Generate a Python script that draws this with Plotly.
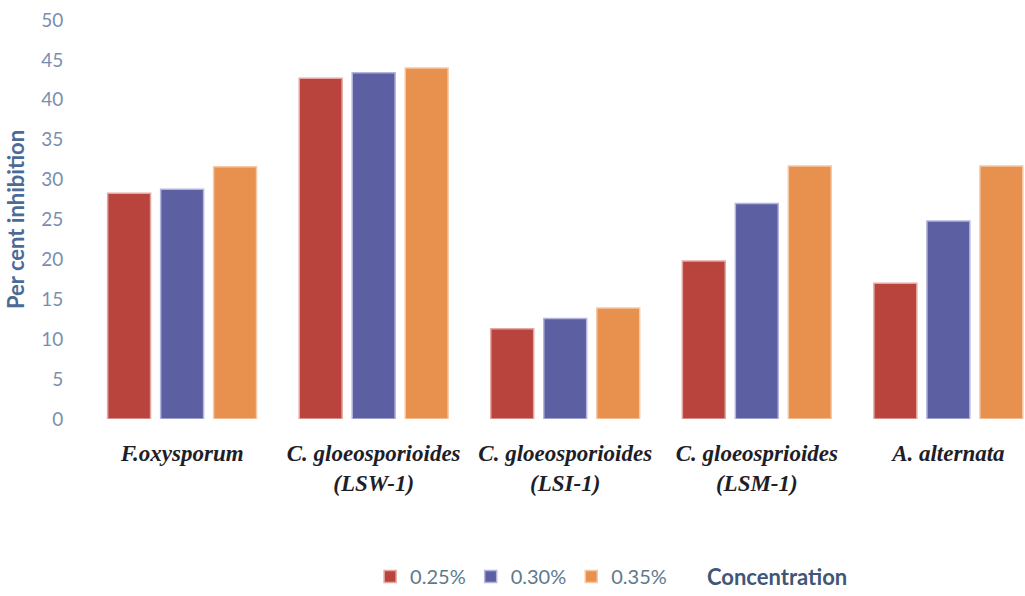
import plotly.graph_objects as go

# Fungal isolates (x categories) and inhibition at each concentration
isolates = [
    "F.oxysporum",
    "C. gloeosporioides<br>(LSW-1)",
    "C. gloeosporioides<br>(LSI-1)",
    "C. gloeosprioides<br>(LSM-1)",
    "A. alternata",
]
conc_labels = ["0.25%", "0.30%", "0.35%"]
inhib_025 = [28.3, 42.7, 11.3, 19.8, 17.0]
inhib_030 = [28.8, 43.4, 12.6, 27.0, 24.8]
inhib_035 = [31.6, 44.0, 13.9, 31.7, 31.7]

series = [inhib_025, inhib_030, inhib_035]
colors = ["#b8443d", "#5c60a3", "#e8914f"]
edges = ["#e3a8a4", "#b3b5dc", "#f5c9a6"]

fig = go.Figure()
for name, vals, col, edge in zip(conc_labels, series, colors, edges):
    fig.add_trace(go.Bar(
        x=list(range(len(isolates))),
        y=vals,
        name=name,
        marker=dict(color=col, line=dict(color=edge, width=1.5)),
    ))

fig.add_annotation(
    text="<b>Concentration</b>", xref="paper", yref="paper",
    x=0.7376, y=-0.395, xanchor="center", yanchor="middle", showarrow=False,
    font=dict(family="Lato, Open Sans, sans-serif", size=22, color="#3f5777"),
)

fig.update_layout(
    width=1025, height=596,
    paper_bgcolor="#ffffff", plot_bgcolor="#ffffff",
    margin=dict(l=80, r=0, t=20, b=173),
    barmode="group", bargap=0.17, bargroupgap=0.19,
    font=dict(family="Lato, Open Sans, sans-serif"),
    showlegend=True,
    legend=dict(
        orientation="h", x=0.307, y=-0.395, xanchor="left", yanchor="middle",
        font=dict(size=20, color="#5d7a8c"), itemwidth=30,
        bgcolor="rgba(0,0,0,0)",
    ),
    xaxis=dict(
        tickmode="array", tickvals=list(range(len(isolates))), ticktext=isolates,
        range=[-0.533, 4.40],
        showline=False, showgrid=False, zeroline=False,
        ticks="outside", ticklen=13, tickcolor="rgba(0,0,0,0)",
        tickfont=dict(family="Liberation Serif, serif", size=23, color="#1e1e28",
                      weight="bold", style="italic"),
    ),
    yaxis=dict(
        range=[0, 50], dtick=5, showgrid=False, zeroline=False, showline=False,
        ticks="outside", ticklen=12, tickcolor="rgba(0,0,0,0)",
        tickfont=dict(size=19, color="#7a8fb0"),
        title=dict(text="<b>Per cent inhibition</b>", standoff=10,
                   font=dict(size=22, color="#4b6b96")),
    ),
)

fig.write_html("out.html")
